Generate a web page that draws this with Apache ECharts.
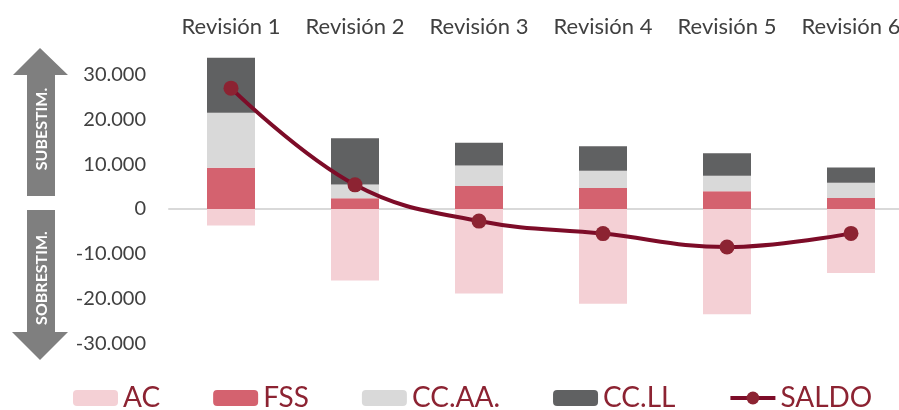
<!DOCTYPE html>
<html>
<head>
<meta charset="utf-8">
<script src="https://cdn.jsdelivr.net/npm/echarts@6/dist/echarts.min.js"></script>
<style>
  html, body { margin: 0; padding: 0; background: #fff; overflow: hidden; }
  /* el gráfico original corta la última etiqueta por la derecha */
  #chart { width: 913px; height: 410px; }
</style>
</head>
<body>
<div id="chart"></div>
<script>
// categorías y valores
const revisiones = ['Revisión 1', 'Revisión 2', 'Revisión 3', 'Revisión 4', 'Revisión 5', 'Revisión 6']
const ac = [-3700, -16000, -18900, -21200, -23500, -14300]
const fss = [9200, 2400, 5150, 4700, 3950, 2450]
const ccaa = [12300, 3050, 4550, 3850, 3500, 3400]
const ccll = [12300, 10350, 5100, 5450, 5000, 3450]
const saldo = [27000, 5400, -2700, -5500, -8500, -5450]

const font = 'Lato, "Open Sans", sans-serif'
const chart = echarts.init(document.getElementById('chart'))

// flechas grises de la izquierda
const gris = '#7f7f7f'
const flechas = [
  {
    type: 'polygon',
    shape: { points: [[40, 48], [68, 75], [55, 75], [55, 196], [27, 196], [27, 75], [13, 75]] },
    style: { fill: gris },
  },
  {
    type: 'polygon',
    shape: { points: [[27, 210], [55, 210], [55, 332], [68, 332], [40, 360], [12, 332], [27, 332]] },
    style: { fill: gris },
  },
  {
    type: 'text',
    x: 42, y: 129, rotation: Math.PI / 2,
    style: { text: 'SUBESTIM.', fill: '#fff', font: 'bold 16px ' + font, align: 'center', verticalAlign: 'middle' },
  },
  {
    type: 'text',
    x: 42, y: 278, rotation: Math.PI / 2,
    style: { text: 'SOBRESTIM.', fill: '#fff', font: 'bold 16px ' + font, align: 'center', verticalAlign: 'middle' },
  },
]

const barra = (name, data, color) => ({
  name,
  type: 'bar',
  stack: 'total',
  data,
  barWidth: 48,
  itemStyle: { color },
})

chart.setOption({
  animation: false,
  textStyle: { fontFamily: font },
  graphic: flechas,
  grid: { left: 169, right: 0, top: 30, bottom: 22 },
  legend: {
    left: 68,
    top: 379,
    itemWidth: 45,
    itemHeight: 16,
    itemGap: 53,
    textStyle: { color: '#8c2332', fontSize: 28, fontFamily: font },
    data: ['AC', 'FSS', 'CC.AA.', 'CC.LL', { name: 'SALDO', lineStyle: { width: 4 } }],
  },
  xAxis: [
    {
      type: 'category',
      data: revisiones,
      position: 'top',
      axisLine: { show: false, onZero: false },
      axisTick: { show: false },
      axisLabel: { color: '#404040', fontSize: 22, margin: -8, interval: 0 },
    },
    {
      type: 'category',
      data: revisiones,
      position: 'bottom',
      axisLine: { onZero: true, lineStyle: { color: '#d9d9d9', width: 2 } },
      axisTick: { show: false },
      axisLabel: { show: false },
    },
  ],
  yAxis: {
    type: 'value',
    min: -40000,
    max: 40000,
    interval: 10000,
    splitLine: { show: false },
    axisLine: { show: false },
    axisTick: { show: false },
    axisLabel: {
      color: '#404040',
      fontSize: 20,
      margin: 23,
      formatter: (v) => (Math.abs(v) >= 40000 ? '' : v.toLocaleString('de-DE')),
    },
  },
  series: [
    barra('AC', ac, '#f4d0d5'),
    barra('FSS', fss, '#d4626f'),
    barra('CC.AA.', ccaa, '#d9d9d9'),
    barra('CC.LL', ccll, '#606162'),
    {
      name: 'SALDO',
      type: 'line',
      data: saldo,
      smooth: 0.4,
      symbol: 'circle',
      symbolSize: 15,
      z: 5,
      lineStyle: { color: '#7d0c28', width: 4 },
      itemStyle: { color: '#8c2332' },
    },
  ],
})
</script>
</body>
</html>
